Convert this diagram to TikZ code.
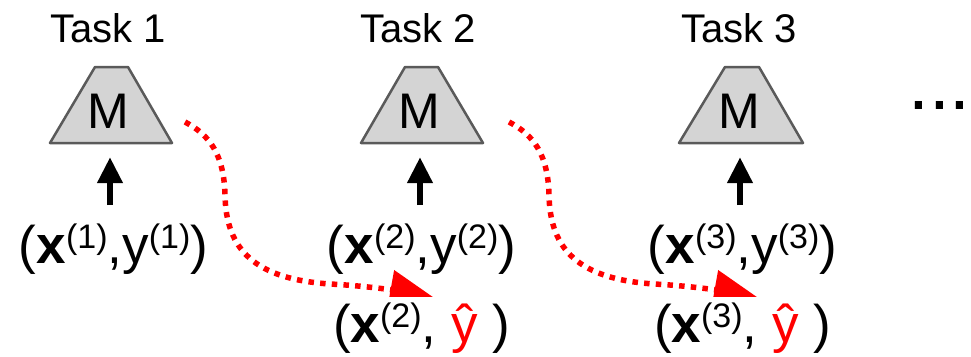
\documentclass[tikz,border=0pt]{standalone}
\usepackage{fontspec}
\setmainfont{Liberation Sans}
\usetikzlibrary{arrows.meta}
\definecolor{trapfill}{HTML}{D4D4D4}
\definecolor{trapline}{HTML}{5A5A5A}
\newcommand\supidx[1]{\raisebox{15pt}{\fontsize{34}{34}\selectfont #1}}
\begin{document}
\begin{tikzpicture}[x=1pt,y=-1pt,
  tasklabel/.style={anchor=base, inner sep=0pt, font=\fontsize{40}{44}\selectfont},
  mtext/.style={anchor=base, inner sep=0pt, font=\fontsize{50}{52}\selectfont},
  trap/.style={fill=trapfill, draw=trapline, line width=2.5pt, line join=round},
  pair/.style={anchor=base, inner sep=0pt, font=\fontsize{53}{60}\selectfont},
  pairhat/.style={pair, fill=white, text height=45pt, text depth=15pt, inner xsep=2pt},
  uparrow/.style={line width=6.5pt, -{Triangle[width=24pt,length=26pt]}},
  transfer/.style={red, line width=5.5pt, dash pattern=on 5.5pt off 6.2pt,
                   -{Triangle[width=38pt,length=43pt]}},
]
\useasboundingbox (0,0) rectangle (971,356);
\clip (0,0) rectangle (971,356);

% task titles
\node[tasklabel] (task1) at (108,42) {Task 1};
\node[tasklabel] (task2) at (418,42) {Task 2};
\node[tasklabel] (task3) at (739,42) {Task 3};

% models
\draw[trap] (50,143) -- (95,67) -- (128,67) -- (172,143) -- cycle;
\draw[trap] (361,143) -- (405,67) -- (438,67) -- (483,143) -- cycle;
\draw[trap] (679,143) -- (725,67) -- (759,67) -- (803,143) -- cycle;
\node[mtext] (m1) at (108.5,128) {M};
\node[mtext] (m2) at (419.5,128) {M};
\node[mtext] (m3) at (739,128) {M};
\coordinate (b1) at (110,143);
\coordinate (b2) at (420,143);
\coordinate (b3) at (740,143);

% data labels
\node[pair] (d1) at (113.5,263) {(\textbf{x}\supidx{(1)},y\supidx{(1)})};
\node[pair] (d2) at (421.5,263) {(\textbf{x}\supidx{(2)},y\supidx{(2)})};
\node[pair] (d3) at (742.5,263) {(\textbf{x}\supidx{(3)},y\supidx{(3)})};

% training arrows
\coordinate (s1) at (110,205);
\coordinate (s2) at (420,205);
\coordinate (s3) at (740,205);
\draw[uparrow, shorten >=14pt] (s1) -- (b1);
\draw[uparrow, shorten >=14pt] (s2) -- (b2);
\draw[uparrow, shorten >=14pt] (s3) -- (b3);

% transfer arrows
\coordinate (r1s) at (185,122);
\coordinate (r1e) at (433,297);
\coordinate (r2s) at (509,122);
\coordinate (r2e) at (757,297);
\draw[transfer] (r1s) .. controls (210,135) and (224,155) .. (225,195)
  .. controls (226,250) and (255,279) .. (330,284)
  .. controls (370,286) and (405,292) .. (r1e);
\draw[transfer] (r2s) .. controls (534,135) and (548,155) .. (549,195)
  .. controls (550,250) and (579,279) .. (654,284)
  .. controls (694,286) and (729,292) .. (r2e);

% pseudo-labelled data
\node[pairhat] (h2) at (421.5,342) {(\textbf{x}\supidx{(2)}, \textcolor{red}{ŷ}\ )};
\node[pairhat] (h3) at (742.5,342) {(\textbf{x}\supidx{(3)}, \textcolor{red}{ŷ}\ )};

% continuation
\node[anchor=base west, inner sep=0pt, font=\fontsize{75}{78}\selectfont] (more) at (908,109) {...};
\end{tikzpicture}
\end{document}
